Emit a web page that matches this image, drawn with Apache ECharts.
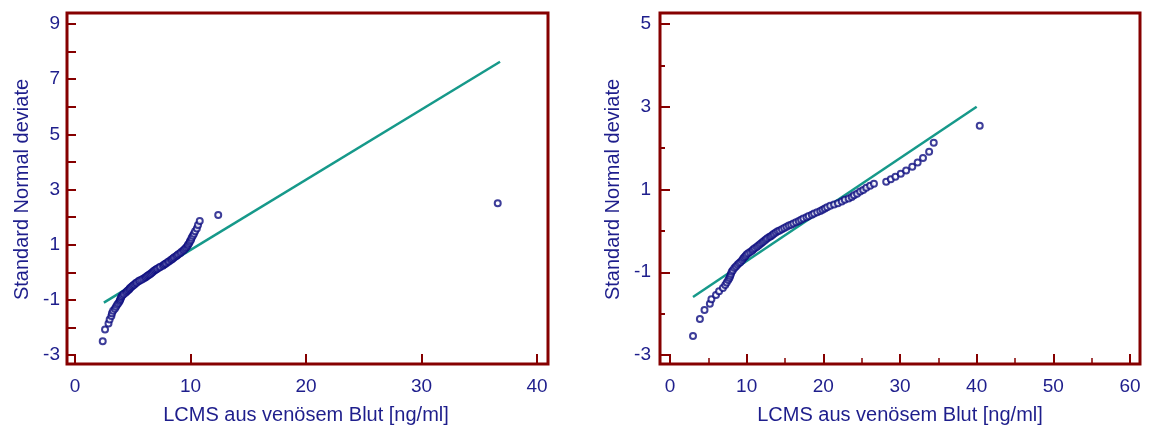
<!DOCTYPE html>
<html>
<head>
<meta charset="utf-8">
<title>Normal probability plots</title>
<script src="https://cdn.jsdelivr.net/npm/echarts@6/dist/echarts.min.js"></script>
<style>
  html, body { margin: 0; padding: 0; background: #ffffff; }
  #chart { width: 1149px; height: 431px; }
</style>
</head>
<body>
<div id="chart"></div>
<script>
// Left panel: sorted concentrations against their normal scores
const leftX = [2.4, 2.6, 2.9, 3.0, 3.15, 3.2, 3.3, 3.45, 3.55, 3.65,
  3.75, 3.85, 3.9, 3.95, 4.0, 4.05, 4.15, 4.25, 4.4, 4.5,
  4.6, 4.7, 4.75, 4.85, 4.95, 5.05, 5.15, 5.25, 5.35, 5.5,
  5.6, 5.75, 5.9, 6.05, 6.15, 6.25, 6.35, 6.45, 6.55, 6.65,
  6.75, 6.85, 6.95, 7.05, 7.15, 7.3, 7.4, 7.6, 7.7, 7.8,
  7.9, 8.05, 8.15, 8.3, 8.4, 8.5, 8.6, 8.75, 8.85, 8.95,
  9.1, 9.2, 9.35, 9.45, 9.55, 9.65, 9.75, 9.8, 9.9, 9.95,
  10.05, 10.1, 10.2, 10.3, 10.4, 10.55, 10.65, 10.8, 12.4, 36.6];
const leftY = [-2.50, -2.08, -1.86, -1.71, -1.59, -1.49, -1.40, -1.32, -1.25, -1.18,
  -1.12, -1.06, -1.01, -0.96, -0.91, -0.86, -0.82, -0.78, -0.73, -0.69,
  -0.65, -0.62, -0.58, -0.54, -0.51, -0.47, -0.44, -0.40, -0.37, -0.33,
  -0.30, -0.27, -0.24, -0.20, -0.17, -0.14, -0.11, -0.08, -0.05, -0.02,
  0.02, 0.05, 0.08, 0.11, 0.14, 0.17, 0.20, 0.24, 0.27, 0.30,
  0.33, 0.37, 0.40, 0.44, 0.47, 0.51, 0.54, 0.58, 0.62, 0.65,
  0.69, 0.73, 0.78, 0.82, 0.86, 0.91, 0.96, 1.01, 1.06, 1.12,
  1.18, 1.25, 1.32, 1.40, 1.49, 1.59, 1.71, 1.86, 2.08, 2.50];
const leftFitX = [2.5, 36.8];
const leftFitY = [-1.1, 7.63];

// Right panel
const rightX = [3.0, 3.9, 4.5, 5.2, 5.4, 6.0, 6.4, 6.9, 7.2, 7.4,
  7.6, 7.75, 7.85, 7.95, 8.05, 8.2, 8.4, 8.6, 8.8, 9.0,
  9.2, 9.4, 9.55, 9.7, 9.85, 10.0, 10.2, 10.45, 10.7, 10.85,
  11.05, 11.3, 11.5, 11.7, 11.9, 12.1, 12.3, 12.5, 12.7, 12.95,
  13.15, 13.35, 13.55, 13.8, 14.05, 14.3, 14.6, 14.9, 15.2, 15.5,
  15.8, 16.1, 16.45, 16.8, 17.1, 17.4, 17.8, 18.1, 18.5, 18.8,
  19.2, 19.6, 19.9, 20.2, 20.5, 20.9, 21.4, 21.9, 22.4, 22.8,
  23.3, 23.7, 24.0, 24.4, 24.8, 25.2, 25.6, 26.1, 26.6, 28.2,
  28.8, 29.4, 30.1, 30.8, 31.6, 32.3, 33.0, 33.8, 34.4, 40.4];
const rightY = [-2.54, -2.13, -1.91, -1.76, -1.65, -1.55, -1.46, -1.38, -1.31, -1.25,
  -1.19, -1.14, -1.09, -1.04, -0.99, -0.95, -0.90, -0.86, -0.82, -0.78,
  -0.75, -0.71, -0.67, -0.64, -0.61, -0.57, -0.54, -0.51, -0.48, -0.45,
  -0.42, -0.39, -0.36, -0.33, -0.30, -0.27, -0.24, -0.21, -0.18, -0.15,
  -0.13, -0.10, -0.07, -0.04, -0.01, 0.01, 0.04, 0.07, 0.10, 0.13,
  0.15, 0.18, 0.21, 0.24, 0.27, 0.30, 0.33, 0.36, 0.39, 0.42,
  0.45, 0.48, 0.51, 0.54, 0.57, 0.61, 0.64, 0.67, 0.71, 0.75,
  0.78, 0.82, 0.86, 0.90, 0.95, 0.99, 1.04, 1.09, 1.14, 1.19,
  1.25, 1.31, 1.38, 1.46, 1.55, 1.65, 1.76, 1.91, 2.13, 2.54];
const rightFitX = [3.0, 40.0];
const rightFitY = [-1.6, 3.0];

// Tick positions
const leftYLabels = [-3, -1, 1, 3, 5, 7, 9];
const rightYMajor = [-3, -1, 1, 3, 5];

const xTitle = 'LCMS aus venösem Blut [ng/ml]';
const yTitle = 'Standard Normal deviate';

const FRAME = '#860000';
const INK = '#1e1e8c';
const DOT = '#0c0c80';
const FIT = '#16998a';
const FONT = '"Liberation Sans", Arial, sans-serif';

const pairs = (xs, ys) => xs.map((x, i) => [x, ys[i]]);

const labelStyle = (margin) => ({
  color: INK, fontSize: 19, fontFamily: FONT, margin: margin
});
const nameStyle = { color: INK, fontSize: 20, fontFamily: FONT };

function valueX(gridIndex, max, minor) {
  return {
    type: 'value', gridIndex, position: 'bottom', min: 0, max, interval: 10, offset: 9,
    axisLine: { show: false, onZero: false },
    axisTick: { show: true, inside: true, length: 10, lineStyle: { color: FRAME, width: 2 } },
    minorTick: minor ? { show: true, splitNumber: 2, length: 6, lineStyle: { color: FRAME, width: 1.5 } } : { show: false },
    axisLabel: labelStyle(13),
    splitLine: { show: false },
    name: xTitle, nameLocation: 'middle', nameGap: 41, nameTextStyle: nameStyle
  };
}

const chart = echarts.init(document.getElementById('chart'), null, { renderer: 'canvas' });

chart.setOption({
  animation: false,
  backgroundColor: '#ffffff',
  grid: [
    { left: 75, top: 24, width: 462, height: 331 },
    { left: 670, top: 24, width: 460, height: 331 }
  ],
  xAxis: [valueX(0, 40, false), valueX(1, 60, true)],
  yAxis: [
    {
      type: 'value', gridIndex: 0, position: 'left', min: -3, max: 9, interval: 1, offset: 8,
      axisLine: { show: false, onZero: false },
      axisTick: { inside: true, length: 9, lineStyle: { color: FRAME, width: 2 } },
      axisLabel: Object.assign(labelStyle(7), {
        customValues: leftYLabels
      }),
      splitLine: { show: false },
      name: yTitle, nameLocation: 'middle', nameGap: 35, nameTextStyle: nameStyle
    },
    {
      type: 'value', gridIndex: 1, position: 'left', min: -3, max: 5, interval: 1, offset: 10,
      axisLine: { show: false, onZero: false },
      axisTick: { inside: true, length: 10, lineStyle: { color: FRAME, width: 2 }, customValues: rightYMajor },
      axisLabel: Object.assign(labelStyle(9), { customValues: rightYMajor }),
      splitLine: { show: false },
      name: yTitle, nameLocation: 'middle', nameGap: 37, nameTextStyle: nameStyle
    },
    {
      // short ticks at every integer on the right panel
      type: 'value', gridIndex: 1, position: 'left', min: -3, max: 5, interval: 1, offset: 10,
      axisLine: { show: false, onZero: false },
      axisTick: { inside: true, length: 5, lineStyle: { color: FRAME, width: 2 } },
      axisLabel: { show: false },
      splitLine: { show: false }
    }
  ],
  graphic: [
    { type: 'rect', shape: { x: 67, y: 13, width: 481, height: 351 },
      style: { fill: null, stroke: FRAME, lineWidth: 3 }, z: 10 },
    { type: 'rect', shape: { x: 660, y: 13, width: 480, height: 351 },
      style: { fill: null, stroke: FRAME, lineWidth: 3 }, z: 10 }
  ],
  series: [
    { type: 'line', xAxisIndex: 0, yAxisIndex: 0, data: pairs(leftFitX, leftFitY),
      showSymbol: false, lineStyle: { color: FIT, width: 2.5 }, z: 2, silent: true },
    { type: 'scatter', xAxisIndex: 0, yAxisIndex: 0, data: pairs(leftX, leftY),
      symbol: 'emptyCircle', symbolSize: 6,
      itemStyle: { color: DOT, borderWidth: 1.5 }, z: 3 },
    { type: 'line', xAxisIndex: 1, yAxisIndex: 1, data: pairs(rightFitX, rightFitY),
      showSymbol: false, lineStyle: { color: FIT, width: 2.5 }, z: 2, silent: true },
    { type: 'scatter', xAxisIndex: 1, yAxisIndex: 1, data: pairs(rightX, rightY),
      symbol: 'emptyCircle', symbolSize: 6,
      itemStyle: { color: DOT, borderWidth: 1.5 }, z: 3 }
  ]
});
</script>
</body>
</html>
